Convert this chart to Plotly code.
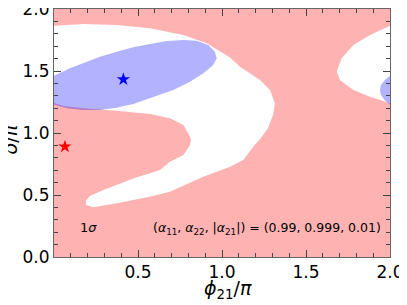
import plotly.graph_objects as go

# ---- data ----
# white (excluded) region boundary, phi21/pi and delta/pi; periodic in phi (period 2)
white_phi = [-0.317, -0.288, -0.218, -0.119, 0.0, 0.175, 0.373, 0.571, 0.770, 0.909,
             1.048, 1.107, 1.226, 1.286, 1.315, 1.304, 1.274, 1.232, 1.186, 1.127,
             1.048, 0.964, 0.889, 0.690, 0.571, 0.373, 0.234, 0.190, 0.190, 0.214,
             0.294, 0.472, 0.631, 0.690, 0.770, 0.810, 0.815, 0.810, 0.790, 0.770,
             0.690, 0.571, 0.373, 0.175, 0.056, 0.0, -0.119, -0.218, -0.298]
white_delta = [1.495, 1.602, 1.710, 1.790, 1.865, 1.879, 1.871, 1.844, 1.790, 1.723,
               1.608, 1.535, 1.427, 1.347, 1.240, 1.145, 1.040, 0.960, 0.890, 0.782,
               0.728, 0.685, 0.648, 0.527, 0.486, 0.433, 0.401, 0.419, 0.456, 0.492,
               0.540, 0.634, 0.702, 0.769, 0.823, 0.903, 0.944, 0.970, 1.024, 1.065,
               1.118, 1.153, 1.180, 1.199, 1.218, 1.240, 1.293, 1.347, 1.427]

# blue 1-sigma ellipse boundary
ell_phi = [-0.060, -0.054, -0.030, 0.0, 0.095, 0.174, 0.274, 0.373, 0.472, 0.571,
           0.671, 0.770, 0.849, 0.918, 0.958, 0.968, 0.948, 0.889, 0.810, 0.710,
           0.571, 0.472, 0.373, 0.274, 0.174, 0.076, 0.0, -0.030, -0.054]
ell_delta = [1.347, 1.387, 1.427, 1.462, 1.522, 1.562, 1.615, 1.656, 1.691, 1.718,
             1.742, 1.750, 1.744, 1.710, 1.656, 1.602, 1.548, 1.481, 1.414, 1.347,
             1.280, 1.234, 1.204, 1.185, 1.185, 1.199, 1.228, 1.262, 1.306]

blue_star = (0.413, 1.433)
red_star = (0.065, 0.890)

x_tickvals = [0, 0.5, 1.0, 1.5, 2.0]
x_ticktext = ["", "0.5", "1.0", "1.5", "2.0"]
y_tickvals = [0, 0.5, 1.0, 1.5, 2.0]
y_ticktext = ["0.0", "0.5", "1.0", "1.5", "2.0"]
periods = [0, 2]

PINK = "rgb(255,178,178)"
BLUE = "rgba(0,0,255,0.30)"
FONT = "DejaVu Sans"

fig = go.Figure()
for p in periods:
    fig.add_trace(go.Scatter(x=[v + p for v in white_phi], y=white_delta,
                             mode="lines", fill="toself", fillcolor="white",
                             line=dict(width=0, color="white"),
                             hoverinfo="skip", showlegend=False))
for p in periods:
    fig.add_trace(go.Scatter(x=[v + p for v in ell_phi], y=ell_delta,
                             mode="lines", fill="toself", fillcolor=BLUE,
                             line=dict(width=0, color=BLUE),
                             hoverinfo="skip", showlegend=False))
fig.add_trace(go.Scatter(x=[blue_star[0]], y=[blue_star[1]], mode="markers",
                         marker=dict(symbol="star", size=10, color="blue"),
                         showlegend=False, cliponaxis=False))
fig.add_trace(go.Scatter(x=[red_star[0]], y=[red_star[1]], mode="markers",
                         marker=dict(symbol="star", size=10, color="red"),
                         showlegend=False, cliponaxis=False))

axis_common = dict(showgrid=False, zeroline=False, showline=True, linecolor="#666",
                   linewidth=1, mirror="ticks", ticks="inside", ticklen=7,
                   tickcolor="#444", tickwidth=1, automargin=False,
                   ticklabeloverflow="allow",
                   tickfont=dict(family=FONT, size=17, color="black"),
                   minor=dict(dtick=0.1, ticks="inside", ticklen=4, tickcolor="#444"))

fig.update_xaxes(range=[0, 2], tickmode="array", tickvals=x_tickvals, ticktext=x_ticktext,
                 **axis_common)
fig.update_yaxes(range=[0, 2], tickmode="array", tickvals=y_tickvals, ticktext=y_ticktext,
                 **axis_common)

# axis titles
fig.add_annotation(x=0.518, y=-0.133, xref="paper", yref="paper",
                   text="<i>ϕ</i><sub>21</sub>/<i>π</i>", showarrow=False,
                   xanchor="center", yanchor="middle",
                   font=dict(family=FONT, size=19, color="black"))
fig.add_annotation(x=-0.130, y=0.476, xref="paper", yref="paper",
                   text="<i>δ</i>/<i>π</i>", showarrow=False, textangle=-90,
                   xanchor="center", yanchor="middle",
                   font=dict(family=FONT, size=19, color="black"))

fig.add_annotation(x=0.205, y=0.234, xref="x", yref="y", text="1<i>σ</i>",
                   showarrow=False, font=dict(family=FONT, size=13, color="black"))
fig.add_annotation(x=1.958, y=0.232, xref="x", yref="y", xanchor="right",
                   text="(<i>α</i><sub>11</sub>, <i>α</i><sub>22</sub>, |<i>α</i><sub>21</sub>|) = (0.99, 0.999, 0.01)",
                   showarrow=False, font=dict(family=FONT, size=12.5, color="black"))

# the page body adds an 8px offset, so the figure is 8px smaller to fit the window
fig.update_layout(width=399, height=297, margin=dict(l=46, r=17, t=1, b=48),
                  plot_bgcolor=PINK, paper_bgcolor="white",
                  font=dict(family=FONT, color="black"))

fig.write_html("out.html")
